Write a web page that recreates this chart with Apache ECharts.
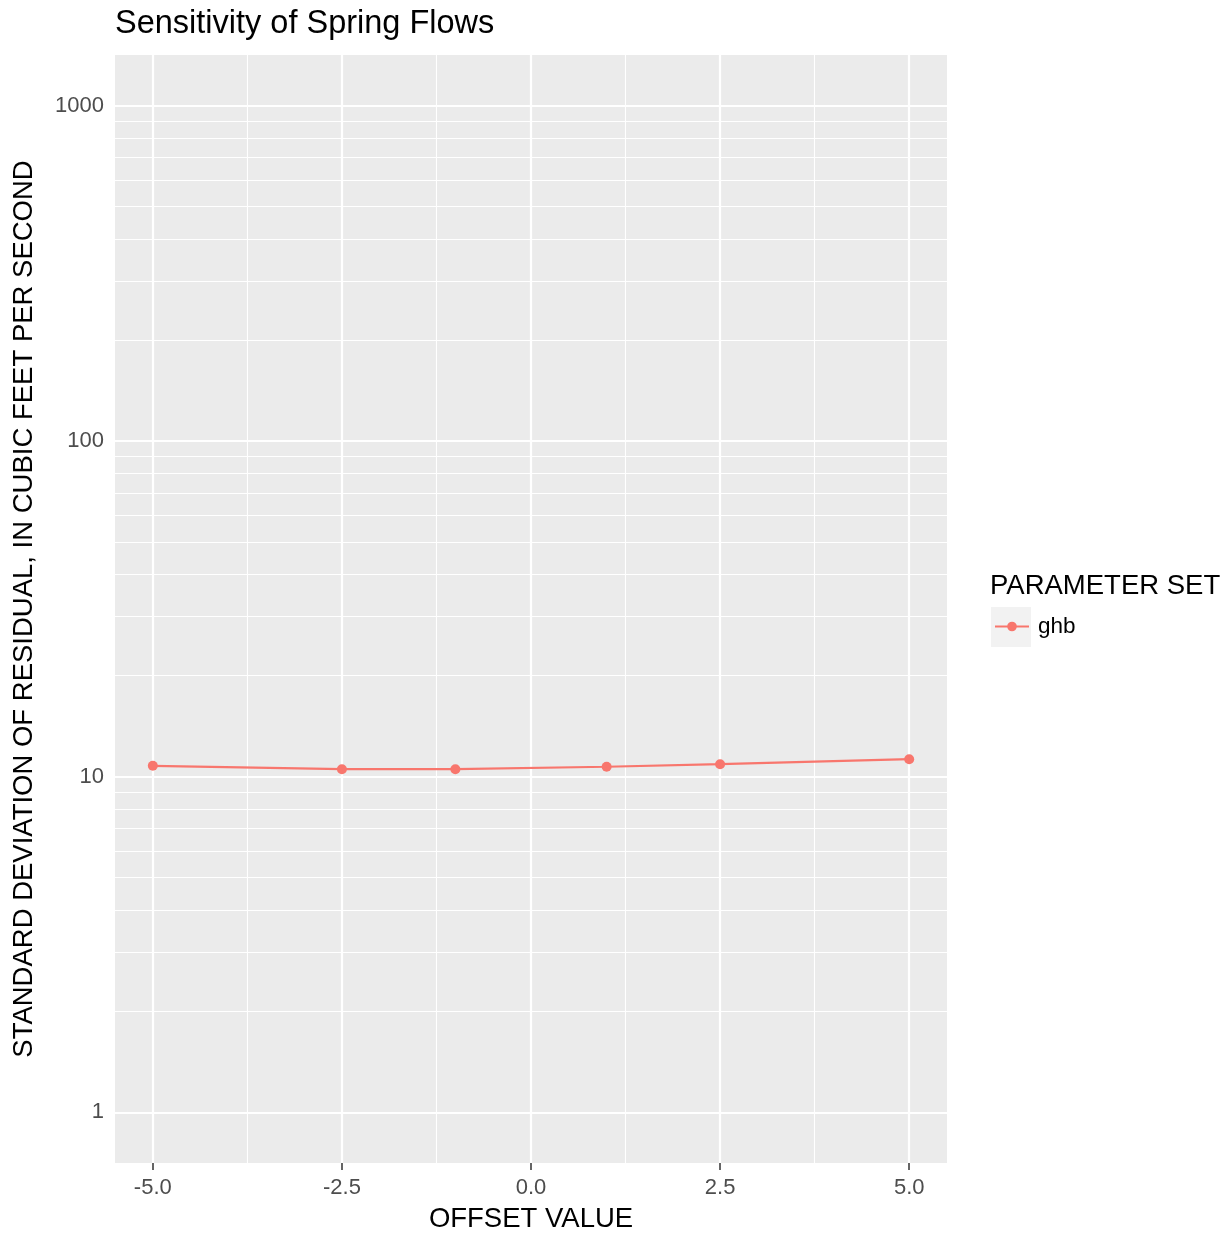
<!DOCTYPE html>
<html>
<head>
<meta charset="utf-8">
<title>Sensitivity of Spring Flows</title>
<script src="https://cdn.jsdelivr.net/npm/echarts@6/dist/echarts.min.js"></script>
<style>
  html, body { margin: 0; padding: 0; background: #fff; }
  #chart { width: 1232px; height: 1238px; }
</style>
</head>
<body>
<div id="chart"></div>
<script>
// data
var offsets = [-5, -2.5, -1, 1, 2.5, 5];
var ghbValues = [10.78, 10.53, 10.53, 10.71, 10.90, 11.28];

// axis breaks
var xTickValues = [-5, -2.5, 0, 2.5, 5];
var xMinorValues = [-3.75, -1.25, 1.25, 3.75];
var yTickValues = [1, 10, 100, 1000];
var yMinorValues = [2, 3, 4, 5, 6, 7, 8, 9, 20, 30, 40, 50, 60, 70, 80, 90,
                    200, 300, 400, 500, 600, 700, 800, 900];

var font = "'Liberation Sans', Arial, sans-serif";
var red = '#F8766D';

// grid lines (ggplot style: white, major thicker than minor)
var gridLines = [];
yTickValues.forEach(function (v) {
  gridLines.push({ yAxis: v, lineStyle: { width: 2.2 } });
});
yMinorValues.forEach(function (v) {
  gridLines.push({ yAxis: v, lineStyle: { width: 1.1 } });
});
xTickValues.forEach(function (v) {
  gridLines.push({ xAxis: v, lineStyle: { width: 2.2 } });
});
xMinorValues.forEach(function (v) {
  gridLines.push({ xAxis: v, lineStyle: { width: 1.1 } });
});

var myChart = echarts.init(document.getElementById('chart'));

var option = {
  backgroundColor: '#fff',
  animation: false,
  textStyle: { fontFamily: font },
  title: [
    {
      text: 'Sensitivity of Spring Flows',
      left: 115,
      top: 8,
      padding: 0,
      textStyle: { fontFamily: font, fontSize: 32.5, fontWeight: 'normal', color: '#000' }
    },
    {
      text: 'PARAMETER SET',
      left: 990,
      top: 572,
      padding: 0,
      textStyle: { fontFamily: font, fontSize: 27.5, fontWeight: 'normal', color: '#000' }
    }
  ],
  graphic: [
    {
      // legend key background
      type: 'rect',
      left: 991,
      top: 607,
      z: 0,
      shape: { width: 40, height: 40 },
      style: { fill: '#F2F2F2' }
    }
  ],
  legend: {
    left: 994,
    top: 615,
    padding: 0,
    itemWidth: 34,
    itemHeight: 12,
    data: ['ghb'],
    textStyle: { fontFamily: font, fontSize: 22.5, color: '#000', padding: [0, 0, 0, 4] }
  },
  grid: {
    left: 115,
    right: 285,
    top: 55,
    bottom: 71,
    show: true,
    backgroundColor: '#EBEBEB',
    borderWidth: 0,
    containLabel: false
  },
  xAxis: {
    type: 'value',
    min: -5.5,
    max: 5.5,
    name: 'OFFSET VALUE',
    nameLocation: 'middle',
    nameGap: 42,
    nameTextStyle: { fontFamily: font, fontSize: 27.5, color: '#000' },
    axisLine: { show: false },
    axisTick: {
      show: true,
      length: 7,
      customValues: xTickValues,
      lineStyle: { color: '#333', width: 1.5 }
    },
    axisLabel: {
      customValues: xTickValues,
      margin: 14,
      fontFamily: font,
      fontSize: 22,
      color: '#4D4D4D',
      formatter: function (v) { return v.toFixed(1); }
    },
    splitLine: { show: false }
  },
  yAxis: {
    type: 'log',
    logBase: 10,
    min: 0.706,
    max: 1416,
    name: 'STANDARD DEVIATION OF RESIDUAL, IN CUBIC FEET PER SECOND',
    nameLocation: 'middle',
    nameRotate: 90,
    nameGap: 77,
    nameTextStyle: { fontFamily: font, fontSize: 27.5, color: '#000' },
    axisLine: { show: false },
    axisTick: {
      show: true,
      length: 7,
      customValues: yTickValues,
      lineStyle: { color: '#333', width: 1.5 }
    },
    axisLabel: {
      customValues: yTickValues,
      margin: 11,
      fontFamily: font,
      fontSize: 22,
      color: '#4D4D4D',
      formatter: function (v) { return String(Math.round(v)); }
    },
    splitLine: { show: false },
    minorSplitLine: { show: false }
  },
  series: [
    {
      name: 'ghb',
      type: 'line',
      z: 3,
      data: offsets.map(function (x, i) { return [x, ghbValues[i]]; }),
      symbol: 'circle',
      symbolSize: 10,
      itemStyle: { color: red },
      lineStyle: { color: red, width: 2.2 },
      markLine: {
        silent: true,
        z: 1,
        symbol: ['none', 'none'],
        label: { show: false },
        emphasis: { disabled: true },
        lineStyle: { color: '#FFFFFF', type: 'solid', opacity: 1 },
        data: gridLines
      }
    }
  ]
};

myChart.setOption(option);
</script>
</body>
</html>
